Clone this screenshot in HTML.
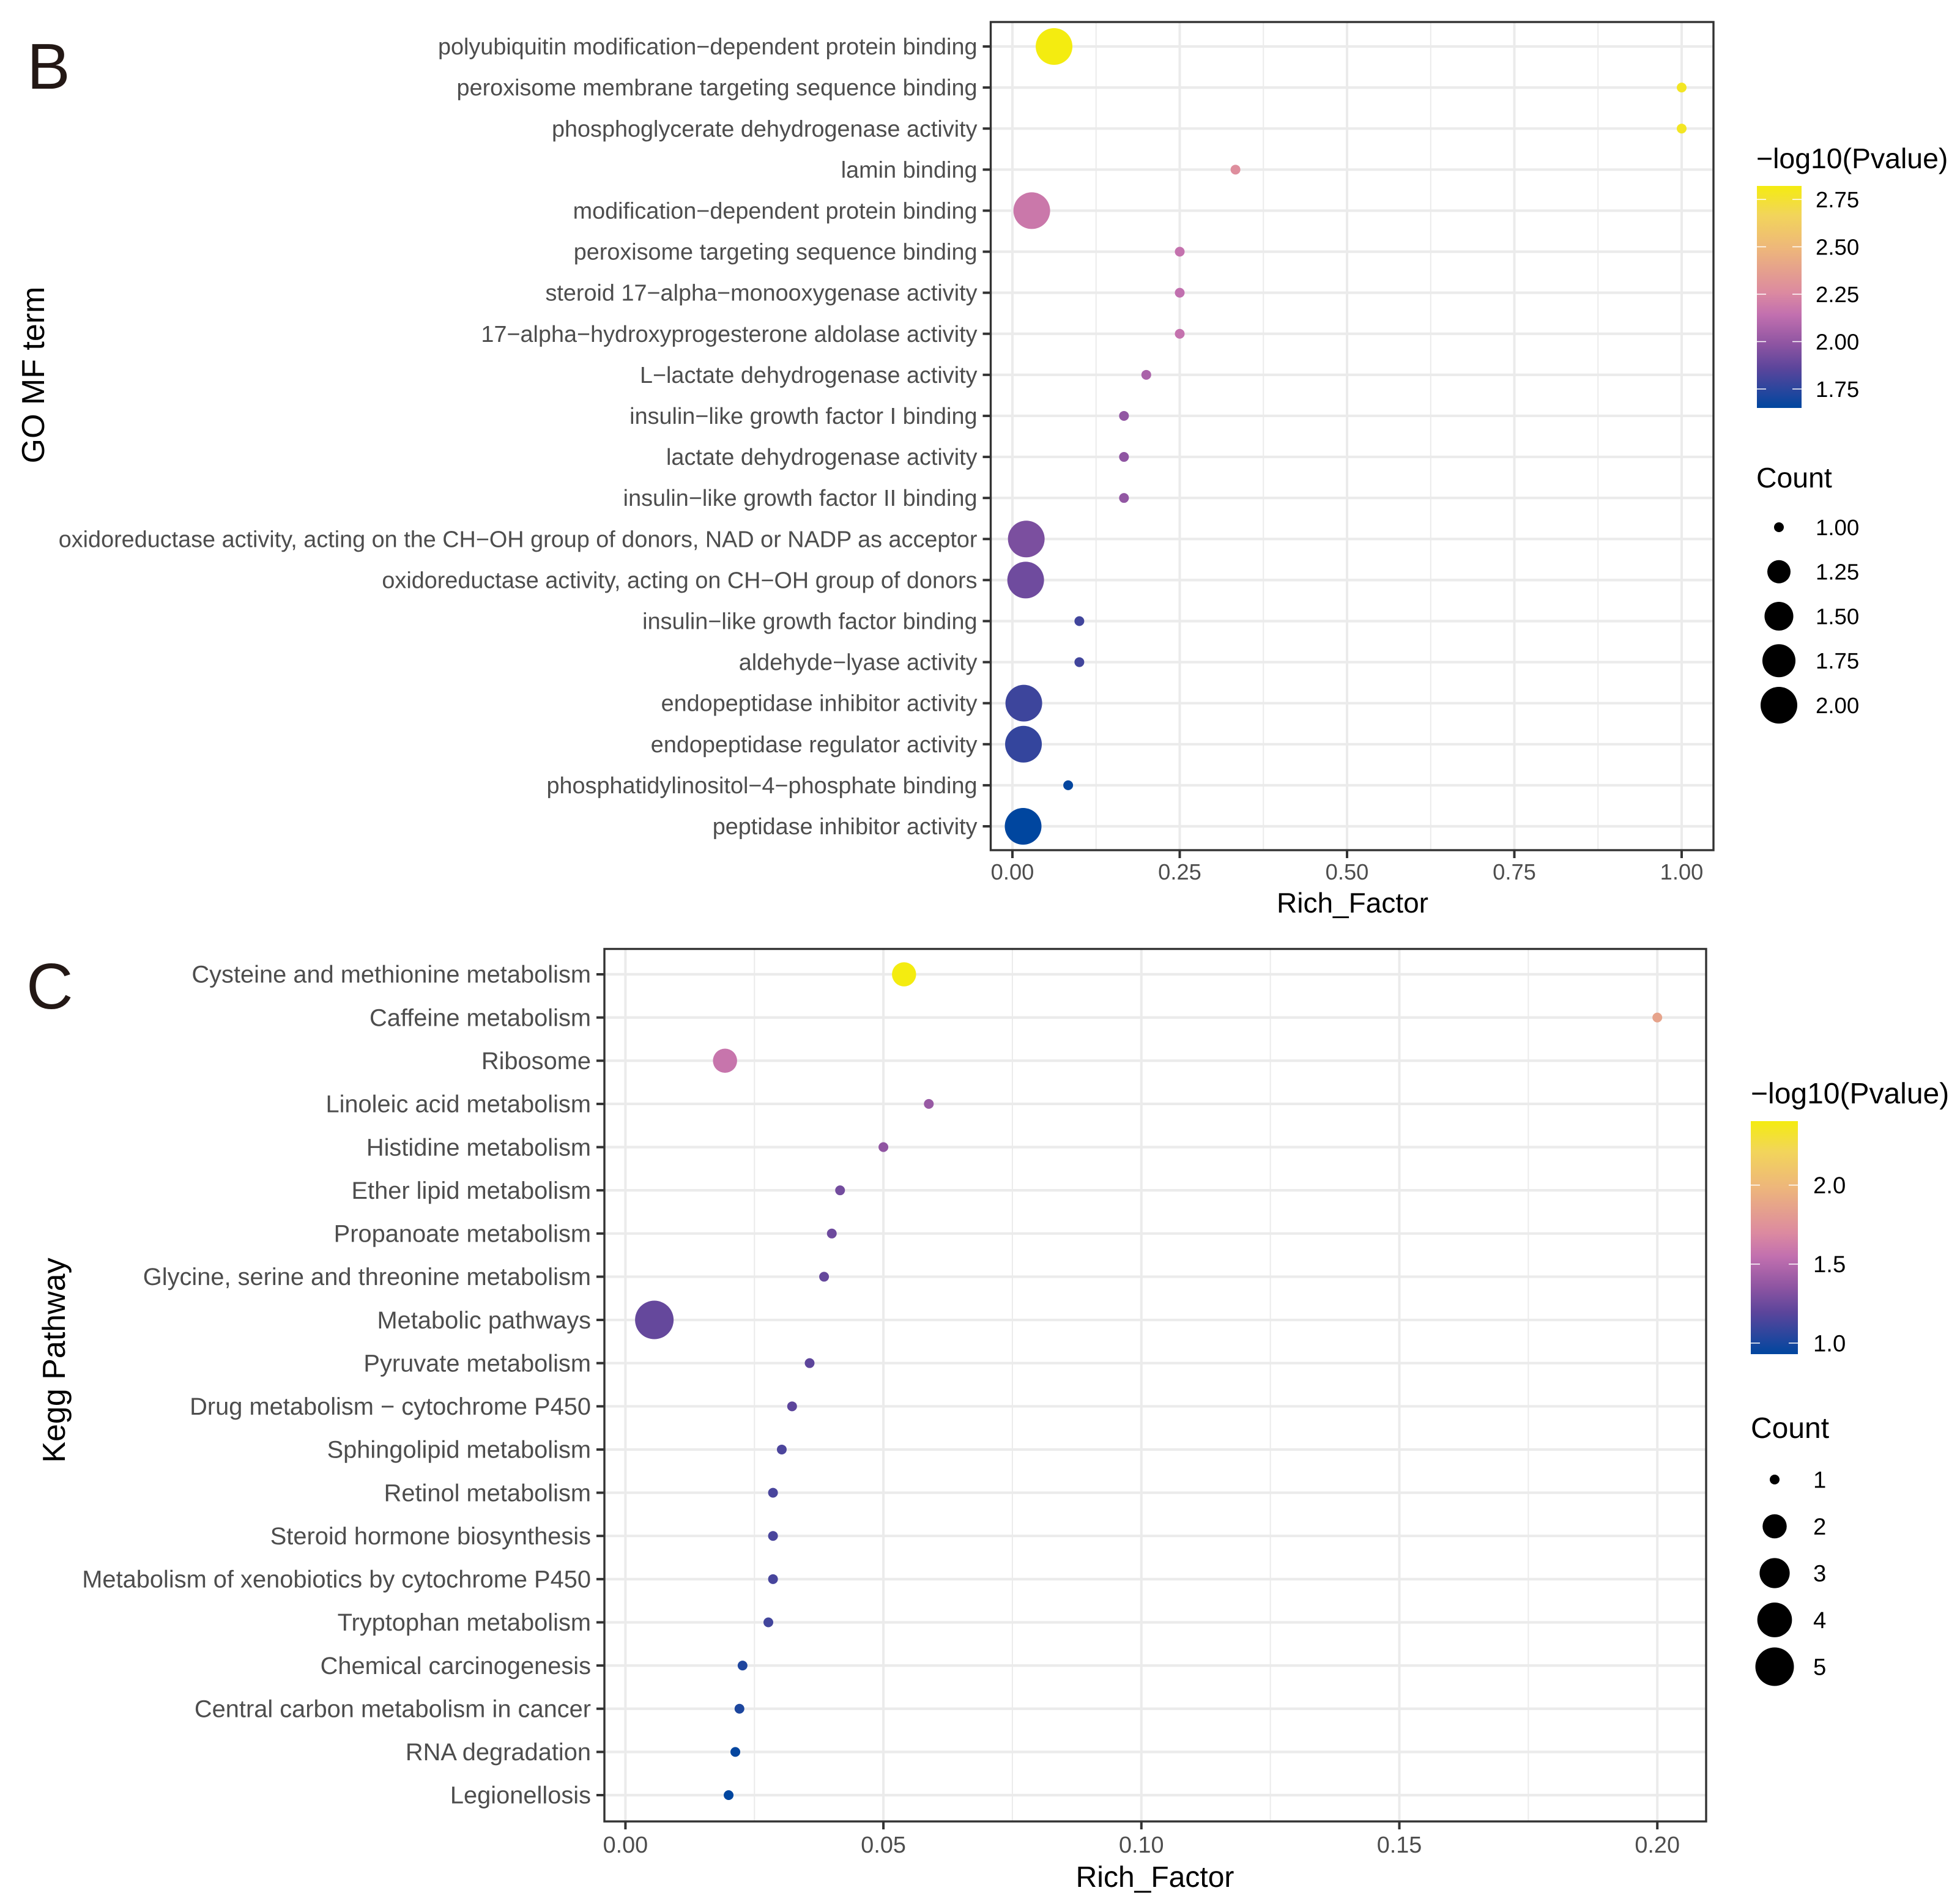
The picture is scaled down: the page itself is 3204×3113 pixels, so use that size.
<!DOCTYPE html>
<html lang="en">
<head>
<meta charset="utf-8">
<title>GO MF and KEGG enrichment dot plots</title>
<style>
html,body{margin:0;padding:0;background:#fff;width:3204px;height:3113px;overflow:hidden}
svg{display:block}
text{font-family:"Liberation Sans",Arial,sans-serif;text-rendering:geometricPrecision}
</style>
</head>
<body>
<svg id="figure" xmlns="http://www.w3.org/2000/svg" width="3204" height="3113" viewBox="0 0 3204 3113">
  <rect x="0" y="0" width="3204" height="3113" fill="#ffffff"/>
  <defs>
    <linearGradient id="ramp" x1="0" y1="1" x2="0" y2="0"></linearGradient>
  </defs>

  <text x="44" y="145" font-size="106" fill="#231815">B</text>
  <text x="43" y="1649" font-size="106" fill="#231815">C</text>

  <text transform="translate(72,613) rotate(-90)" text-anchor="middle" font-size="52" fill="#000">GO MF term</text>
  <text x="2211" y="1492" text-anchor="middle" font-size="46" fill="#000">Rich_Factor</text>
  <text x="2871" y="275" font-size="46.4" fill="#000">−log10(Pvalue)</text>
  <text x="2871" y="797" font-size="46.4" fill="#000">Count</text>

  <text transform="translate(106,2224) rotate(-90)" text-anchor="middle" font-size="52" fill="#000">Kegg Pathway</text>
  <text x="1888" y="3085" text-anchor="middle" font-size="48" fill="#000">Rich_Factor</text>
  <text x="2862" y="1804" font-size="48" fill="#000">−log10(Pvalue)</text>
  <text x="2862" y="2351" font-size="48" fill="#000">Count</text>
</svg>

<script>
// ---- GO MF panel data ----
const mfTerms = [
  "polyubiquitin modification−dependent protein binding",
  "peroxisome membrane targeting sequence binding",
  "phosphoglycerate dehydrogenase activity",
  "lamin binding",
  "modification−dependent protein binding",
  "peroxisome targeting sequence binding",
  "steroid 17−alpha−monooxygenase activity",
  "17−alpha−hydroxyprogesterone aldolase activity",
  "L−lactate dehydrogenase activity",
  "insulin−like growth factor I binding",
  "lactate dehydrogenase activity",
  "insulin−like growth factor II binding",
  "oxidoreductase activity, acting on the CH−OH group of donors, NAD or NADP as acceptor",
  "oxidoreductase activity, acting on CH−OH group of donors",
  "insulin−like growth factor binding",
  "aldehyde−lyase activity",
  "endopeptidase inhibitor activity",
  "endopeptidase regulator activity",
  "phosphatidylinositol−4−phosphate binding",
  "peptidase inhibitor activity"
];
const mfRich = [0.0622, 1, 1, 0.3333, 0.0289, 0.25, 0.25, 0.25, 0.2, 0.1667, 0.1667, 0.1667, 0.0207, 0.0198, 0.1, 0.1, 0.017, 0.0165, 0.0833, 0.016];
const mfCount = [2, 1, 1, 1, 2, 1, 1, 1, 1, 1, 1, 1, 2, 2, 1, 1, 2, 2, 1, 2];
const mfLogP = [2.82, 2.78, 2.78, 2.28, 2.18, 2.15, 2.14, 2.15, 2.07, 2.0, 1.99, 2.0, 1.94, 1.91, 1.8, 1.8, 1.79, 1.77, 1.66, 1.65];
const mfXMajor = [0, 0.25, 0.5, 0.75, 1];
const mfXMajorLabels = ["0.00", "0.25", "0.50", "0.75", "1.00"];
const mfXMinor = [0.125, 0.375, 0.625, 0.875];
const mfColorTicks = [2.75, 2.5, 2.25, 2.0, 1.75];
const mfColorTickLabels = ["2.75", "2.50", "2.25", "2.00", "1.75"];
const mfSizeBreaks = [1, 1.25, 1.5, 1.75, 2];
const mfSizeLabels = ["1.00", "1.25", "1.50", "1.75", "2.00"];

// ---- KEGG panel data ----
const keggTerms = [
  "Cysteine and methionine metabolism",
  "Caffeine metabolism",
  "Ribosome",
  "Linoleic acid metabolism",
  "Histidine metabolism",
  "Ether lipid metabolism",
  "Propanoate metabolism",
  "Glycine, serine and threonine metabolism",
  "Metabolic pathways",
  "Pyruvate metabolism",
  "Drug metabolism − cytochrome P450",
  "Sphingolipid metabolism",
  "Retinol metabolism",
  "Steroid hormone biosynthesis",
  "Metabolism of xenobiotics by cytochrome P450",
  "Tryptophan metabolism",
  "Chemical carcinogenesis",
  "Central carbon metabolism in cancer",
  "RNA degradation",
  "Legionellosis"
];
const keggRich = [0.054, 0.2, 0.0193, 0.0588, 0.05, 0.0416, 0.04, 0.0385, 0.0056, 0.0357, 0.0323, 0.0303, 0.0286, 0.0286, 0.0286, 0.0277, 0.0227, 0.0221, 0.0213, 0.02];
const keggCount = [2, 1, 2, 1, 1, 1, 1, 1, 5, 1, 1, 1, 1, 1, 1, 1, 1, 1, 1, 1];
const keggLogP = [2.405, 1.86, 1.58, 1.39, 1.36, 1.27, 1.25, 1.225, 1.225, 1.2, 1.195, 1.15, 1.14, 1.14, 1.135, 1.12, 1.02, 1.01, 0.945, 0.93];
const keggXMajor = [0, 0.05, 0.1, 0.15, 0.2];
const keggXMajorLabels = ["0.00", "0.05", "0.10", "0.15", "0.20"];
const keggXMinor = [0.025, 0.075, 0.125, 0.175];
const keggColorTicks = [2, 1.5, 1];
const keggColorTickLabels = ["2.0", "1.5", "1.0"];
const keggSizeBreaks = [1, 2, 3, 4, 5];
const keggSizeLabels = ["1", "2", "3", "4", "5"];

// ---- colour ramp shared by both panels ----
const rampPositions = [0, 0.18, 0.29, 0.42, 0.52, 0.72, 0.87, 1];
const rampColors = ["#00469f", "#5c459b", "#8f55a2", "#c270af", "#dc8aa0", "#eeb77a", "#f2d55a", "#f4ec10"];

const SVG_NS = "http://www.w3.org/2000/svg";
const svgRoot = document.getElementById("figure");

function shape(tag, attrs, parent) {
  const node = document.createElementNS(SVG_NS, tag);
  for (const key in attrs) node.setAttribute(key, attrs[key]);
  (parent || svgRoot).appendChild(node);
  return node;
}

function linear(d0, d1, r0, r1) {
  return function (v) { return r0 + (v - d0) / (d1 - d0) * (r1 - r0); };
}

function hexToRgb(h) {
  return [parseInt(h.slice(1, 3), 16), parseInt(h.slice(3, 5), 16), parseInt(h.slice(5, 7), 16)];
}

function rampColor(t) {
  const c = Math.max(0, Math.min(1, t));
  for (let i = 1; i < rampPositions.length; i++) {
    if (c <= rampPositions[i]) {
      const f = (c - rampPositions[i - 1]) / (rampPositions[i] - rampPositions[i - 1]);
      const a = hexToRgb(rampColors[i - 1]);
      const b = hexToRgb(rampColors[i]);
      return "rgb(" + Math.round(a[0] + (b[0] - a[0]) * f) + "," + Math.round(a[1] + (b[1] - a[1]) * f) + "," + Math.round(a[2] + (b[2] - a[2]) * f) + ")";
    }
  }
  return rampColors[rampColors.length - 1];
}

const rampGradient = document.getElementById("ramp");
rampPositions.forEach(function (p, i) {
  const stop = shape("stop", { offset: p, "stop-color": rampColors[i] }, rampGradient);
  
  
});

function drawDotPlot(cfg) {
  const p = cfg.panel;
  const xScale = linear(cfg.xDomain[0], cfg.xDomain[1], cfg.xRange[0], cfg.xRange[1]);
  const yScale = linear(0, cfg.terms.length - 1, cfg.rowFirst, cfg.rowLast);

  const group = shape("g", {});
  
  

  const bg = shape("rect", { x: p.left, y: p.top, width: p.right - p.left, height: p.bottom - p.top, fill: "#ffffff" }, group);
  
  

  cfg.xMinor.forEach(function (v) {
    const line = shape("line", { x1: xScale(v), x2: xScale(v), y1: p.top, y2: p.bottom, stroke: "#ebebeb", "stroke-width": 2 }, group);
    
    
  });
  cfg.xMajor.forEach(function (v) {
    const line = shape("line", { x1: xScale(v), x2: xScale(v), y1: p.top, y2: p.bottom, stroke: "#ebebeb", "stroke-width": 4 }, group);
    
    
  });
  cfg.terms.forEach(function (term, i) {
    const line = shape("line", { x1: p.left, x2: p.right, y1: yScale(i), y2: yScale(i), stroke: "#ebebeb", "stroke-width": 4.2 }, group);
    
    
  });

  const colorT = function (v) { return (v - cfg.colorDomain[0]) / (cfg.colorDomain[1] - cfg.colorDomain[0]); };
  const sizeMin = cfg.sizeBreaks[0];
  const sizeMax = cfg.sizeBreaks[cfg.sizeBreaks.length - 1];
  const diameter = function (c) {
    return cfg.sizeRange[0] + (cfg.sizeRange[1] - cfg.sizeRange[0]) * Math.sqrt((c - sizeMin) / (sizeMax - sizeMin));
  };

  cfg.terms.forEach(function (term, i) {
    const dot = shape("circle", { cx: xScale(cfg.rich[i]), cy: yScale(i), r: diameter(cfg.count[i]) / 2, fill: rampColor(colorT(cfg.logP[i])) }, group);
    
    
  });

  const frame = shape("rect", { x: p.left, y: p.top, width: p.right - p.left, height: p.bottom - p.top, fill: "none", stroke: "#333333", "stroke-width": 3.4 }, group);
  
  

  cfg.terms.forEach(function (term, i) {
    const tick = shape("line", { x1: p.left - 13, x2: p.left, y1: yScale(i), y2: yScale(i), stroke: "#333333", "stroke-width": 4 }, group);
    
    
    const label = shape("text", { x: p.left - 22, y: yScale(i) + cfg.yLabelFont * 0.345, "text-anchor": "end", "font-size": cfg.yLabelFont, fill: "#4d4d4d" }, group);
    label.textContent = term;
    
    
  });

  cfg.xMajor.forEach(function (v, i) {
    const tick = shape("line", { x1: xScale(v), x2: xScale(v), y1: p.bottom, y2: p.bottom + 13, stroke: "#333333", "stroke-width": 4 }, group);
    
    
    const label = shape("text", { x: xScale(v), y: cfg.xLabelBaseline, "text-anchor": "middle", "font-size": cfg.tickFont, fill: "#4d4d4d" }, group);
    label.textContent = cfg.xLabels[i];
    
    
  });

  // colour legend
  const bar = cfg.bar;
  const barY = linear(cfg.colorDomain[0], cfg.colorDomain[1], bar.bottom, bar.top);
  const barRect = shape("rect", { x: bar.left, y: bar.top, width: bar.right - bar.left, height: bar.bottom - bar.top, fill: "url(#ramp)" }, group);
  
  
  cfg.colorTicks.forEach(function (v, i) {
    const y = barY(v);
    const tickL = shape("line", { x1: bar.left, x2: bar.left + 15, y1: y, y2: y, stroke: "#ffffff", "stroke-width": 1.5 }, group);
    
    
    const tickR = shape("line", { x1: bar.right - 15, x2: bar.right, y1: y, y2: y, stroke: "#ffffff", "stroke-width": 1.5 }, group);
    
    
    const label = shape("text", { x: cfg.legendLabelX, y: y + cfg.legendFont * 0.35, "font-size": cfg.legendFont, fill: "#000" }, group);
    label.textContent = cfg.colorTickLabels[i];
    
    
  });

  // size legend
  const legendY = linear(0, cfg.sizeBreaks.length - 1, cfg.sizeLegend.first, cfg.sizeLegend.last);
  cfg.sizeBreaks.forEach(function (c, i) {
    const y = legendY(i);
    const key = shape("circle", { cx: cfg.sizeLegend.x, cy: y, r: diameter(c) / 2, fill: "#000000" }, group);
    
    
    const label = shape("text", { x: cfg.legendLabelX, y: y + cfg.legendFont * 0.35, "font-size": cfg.legendFont, fill: "#000" }, group);
    label.textContent = cfg.sizeLabels[i];
    
    
  });
}

drawDotPlot({
  prefix: "mf",
  terms: mfTerms, rich: mfRich, count: mfCount, logP: mfLogP,
  panel: { left: 1619.5, right: 2801, top: 36, bottom: 1390 },
  rowFirst: 76, rowLast: 1351,
  xDomain: [0, 1], xRange: [1655, 2749],
  xMajor: mfXMajor, xLabels: mfXMajorLabels, xMinor: mfXMinor,
  xLabelBaseline: 1438, tickFont: 36.3, yLabelFont: 37.8, legendFont: 36.6,
  colorDomain: [1.65, 2.821], colorTicks: mfColorTicks, colorTickLabels: mfColorTickLabels,
  bar: { left: 2872, right: 2945, top: 304, bottom: 667 },
  legendLabelX: 2968,
  sizeBreaks: mfSizeBreaks, sizeLabels: mfSizeLabels, sizeRange: [16, 60],
  sizeLegend: { x: 2908, first: 862, last: 1153 }
});

drawDotPlot({
  prefix: "kegg",
  terms: keggTerms, rich: keggRich, count: keggCount, logP: keggLogP,
  panel: { left: 988, right: 2789, top: 1551.5, bottom: 2978 },
  rowFirst: 1593, rowLast: 2935,
  xDomain: [0, 0.2], xRange: [1022.4, 2709.2],
  xMajor: keggXMajor, xLabels: keggXMajorLabels, xMinor: keggXMinor,
  xLabelBaseline: 3029, tickFont: 37.8, yLabelFont: 39.8, legendFont: 38.3,
  colorDomain: [0.93, 2.405], colorTicks: keggColorTicks, colorTickLabels: keggColorTickLabels,
  bar: { left: 2862, right: 2939, top: 1833, bottom: 2214 },
  legendLabelX: 2964,
  sizeBreaks: keggSizeBreaks, sizeLabels: keggSizeLabels, sizeRange: [16, 63],
  sizeLegend: { x: 2901, first: 2419, last: 2725 }
});
</script>
</body>
</html>
